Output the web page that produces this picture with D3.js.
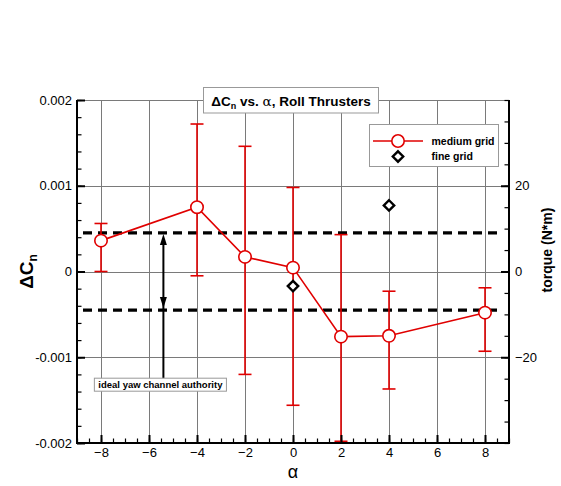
<!DOCTYPE html>
<html><head><meta charset="utf-8">
<script src="https://cdn.jsdelivr.net/npm/d3@7"></script>
<style>
body{margin:0;background:#fff}
svg{display:block}
text{font-family:Arial,'Liberation Sans',sans-serif}
</style>
</head><body><svg id="c" width="561" height="486"></svg>
<script>
// ---- data ----
const alphaMedium = [-8, -4, -2, 0, 2, 4, 8];
const dCnMedium   = [0.00036, 0.00075, 0.00017, 0.000045, -0.00076, -0.00075, -0.00048];
const errUpper    = [0.00056, 0.00172, 0.00146, 0.00098, 0.00043, -0.00023, -0.00019];
const errLower    = [0.0, -0.00005, -0.0012, -0.00156, -0.00198, -0.00137, -0.00093];
const alphaFine   = [0, 4];
const dCnFine     = [-0.00017, 0.00077];
const authority   = [0.00045, -0.00045];
const xTicks      = [-8, -6, -4, -2, 0, 2, 4, 6, 8];
const yTicks      = [0.002, 0.001, 0, -0.001, -0.002];
const yTickLabels = ["0.002", "0.001", "0", "-0.001", "-0.002"];
const torqueTicks = [20, 0, -20];
const annotAlpha  = -5.4;
const annotLabelY = -0.00132;

// ---- layout ----
const svg = d3.select("#c");
const red = "#e00000", gridC = "#7a7a7a";
const x = d3.scaleLinear().domain([-9, 9]).range([77, 509]);
const y = d3.scaleLinear().domain([-0.002, 0.002]).range([443, 100]);
const yR = d3.scaleLinear().domain([-40, 40]).range([443, 100]);

// grid
const g = svg.append("g");
g.selectAll(".vg").data(xTicks).join("line")
  .attr("x1", d => x(d) + 0.5).attr("x2", d => x(d) + 0.5).attr("y1", y(-0.002)).attr("y2", y(0.002))
  .attr("stroke", gridC).attr("stroke-width", 1);
g.selectAll(".hg").data(yTicks.filter(d => d > -0.002)).join("line")
  .attr("x1", x(-9)).attr("x2", x(9)).attr("y1", d => Math.round(y(d)) + 0.5).attr("y2", d => Math.round(y(d)) + 0.5)
  .attr("stroke", gridC).attr("stroke-width", 1);

// authority dashed lines
svg.selectAll(".auth").data(authority).join("line")
  .attr("x1", x(-8.75)).attr("x2", x(8.75)).attr("y1", d => y(d)).attr("y2", d => y(d))
  .attr("stroke", "#000").attr("stroke-width", 3.2).attr("stroke-dasharray", "9,6");

// arrow annotation
const ax = x(annotAlpha);
const topY = y(authority[0]), botY = y(authority[1]);
const labelCY = y(annotLabelY);
svg.append("line").attr("x1", ax).attr("x2", ax).attr("y1", topY + 6).attr("y2", labelCY - 6)
  .attr("stroke", "#000").attr("stroke-width", 2);
svg.append("path").attr("d", `M${ax},${topY + 1}L${ax - 3.5},${topY + 12}L${ax + 3.5},${topY + 12}Z`).attr("fill", "#000");
svg.append("path").attr("d", `M${ax},${botY - 2}L${ax - 3.5},${botY - 13}L${ax + 3.5},${botY - 13}Z`).attr("fill", "#000");

// label box
const lab = svg.append("g");
const labT = lab.append("text").attr("x", x(annotAlpha) - 3).attr("y", labelCY + 3.5)
  .attr("text-anchor", "middle").attr("font-size", 9.5).attr("font-weight", "bold")
  .text("ideal yaw channel authority");
const lw = labT.node().getComputedTextLength();
lab.insert("rect", "text").attr("x", x(annotAlpha) - 3 - lw / 2 - 4).attr("y", labelCY - 6.5)
  .attr("width", lw + 8).attr("height", 13).attr("fill", "#fff").attr("stroke", "#999").attr("stroke-width", 1);

// error bars
const eb = svg.append("g").attr("stroke", red).attr("stroke-width", 1.6);
alphaMedium.forEach((a, i) => {
  eb.append("line").attr("x1", x(a)).attr("x2", x(a)).attr("y1", y(errUpper[i])).attr("y2", y(errLower[i]));
  eb.append("line").attr("x1", x(a) - 6.5).attr("x2", x(a) + 6.5).attr("y1", y(errUpper[i])).attr("y2", y(errUpper[i]));
  eb.append("line").attr("x1", x(a) - 6.5).attr("x2", x(a) + 6.5).attr("y1", y(errLower[i])).attr("y2", y(errLower[i]));
});

// line
svg.append("path").datum(alphaMedium.map((a, i) => [a, dCnMedium[i]]))
  .attr("d", d3.line().x(d => x(d[0])).y(d => y(d[1])))
  .attr("fill", "none").attr("stroke", red).attr("stroke-width", 1.6);
svg.selectAll(".pt").data(alphaMedium).join("circle")
  .attr("cx", d => x(d)).attr("cy", (d, i) => y(dCnMedium[i])).attr("r", 6.2)
  .attr("fill", "#fff").attr("stroke", red).attr("stroke-width", 1.6);

// fine grid diamonds
const dia = s => `M0,${-s}L${s},0L0,${s}L${-s},0Z`;
svg.selectAll(".fd").data(alphaFine).join("path")
  .attr("transform", (d, i) => `translate(${x(d)},${y(dCnFine[i])})`)
  .attr("d", dia(5.2)).attr("fill", "#fff").attr("stroke", "#000").attr("stroke-width", 2.4);

// axes
function styleAxis(sel) {
  sel.selectAll("text").attr("font-size", 13).attr("fill", "#000").attr("font-family", "Arial,'Liberation Sans',sans-serif");
  sel.selectAll(".tick line").attr("stroke", "#000").attr("stroke-width", 1.2);
}
const minorX = d3.range(-9, 9.01, 0.5), minorY = d3.range(-0.002, 0.00201, 0.0002), minorR = d3.range(-40, 40.1, 5);
// bottom
svg.append("g").attr("transform", `translate(0,${y(-0.002)})`)
  .call(d3.axisBottom(x).tickValues(minorX).tickSize(-4.5).tickFormat(""))
  .call(s => s.select(".domain").remove()).call(styleAxis);
svg.append("g").attr("transform", `translate(0,${y(-0.002)})`)
  .call(d3.axisBottom(x).tickValues(xTicks).tickSize(-8).tickPadding(5).tickFormat(d3.format("d")))
  .call(s => s.select(".domain").remove()).call(styleAxis)
  .call(s => s.selectAll(".tick line").attr("stroke-width", 2));
// left
svg.append("g").attr("transform", `translate(${x(-9)},0)`)
  .call(d3.axisLeft(y).tickValues(minorY).tickSize(-4.5).tickFormat(""))
  .call(s => s.select(".domain").remove()).call(styleAxis);
svg.append("g").attr("transform", `translate(${x(-9)},0)`)
  .call(d3.axisLeft(y).tickValues(yTicks).tickSize(-8).tickPadding(5).tickFormat((d, i) => yTickLabels[i]))
  .call(s => s.select(".domain").remove()).call(styleAxis)
  .call(s => s.selectAll(".tick line").attr("stroke-width", 2));
// right
svg.append("g").attr("transform", `translate(${x(9)},0)`)
  .call(d3.axisRight(yR).tickValues(minorR).tickSize(-4.5).tickFormat(""))
  .call(s => s.select(".domain").remove()).call(styleAxis);
svg.append("g").attr("transform", `translate(${x(9)},0)`)
  .call(d3.axisRight(yR).tickValues(torqueTicks).tickSize(-8).tickPadding(6).tickFormat(d3.format("d")))
  .call(s => s.select(".domain").remove()).call(styleAxis)
  .call(s => s.selectAll(".tick line").attr("stroke-width", 2));
// axis lines
svg.append("path").attr("d", `M${x(-9)},${y(0.002)}V${y(-0.002)}H${x(9)}V${y(0.002)}`)
  .attr("fill", "none").attr("stroke", "#000").attr("stroke-width", 2);

// axis titles
const yt = svg.append("text").attr("transform", `translate(33,${y(0)}) rotate(-90)`)
  .attr("text-anchor", "middle").attr("font-size", 19).attr("font-weight", "bold");
yt.append("tspan").text("\u0394C");
yt.append("tspan").attr("font-size", 12).attr("dy", 4).text("n");
svg.append("text").attr("transform", `translate(552,250) rotate(-90)`)
  .attr("text-anchor", "middle").attr("font-size", 14).attr("font-weight", "bold").text("torque (N*m)");
svg.append("text").attr("x", x(0)).attr("y", 478).attr("text-anchor", "middle")
  .attr("font-size", 18).attr("font-family", "'DejaVu Serif',serif").text("\u03b1");

// title
svg.append("rect").attr("x", 203.5).attr("y", 87.5).attr("width", 175).attr("height", 25.5)
  .attr("fill", "#fff").attr("stroke", "#999").attr("stroke-width", 1);
const tt = svg.append("text").attr("x", 291).attr("y", 105.5).attr("text-anchor", "middle")
  .attr("font-size", 13.5).attr("font-weight", "bold");
tt.append("tspan").text("\u0394C");
tt.append("tspan").attr("font-size", 9).attr("dy", 3).text("n");
tt.append("tspan").attr("dy", -3).text(" vs. ");
tt.append("tspan").attr("font-weight", "normal").attr("font-family", "'DejaVu Serif',serif").text("\u03b1");
tt.append("tspan").text(", Roll Thrusters");

// legend
const lg = svg.append("g");
lg.append("rect").attr("x", 369.5).attr("y", 124.5).attr("width", 129).attr("height", 42)
  .attr("fill", "#fff").attr("stroke", "#999").attr("stroke-width", 1);
lg.append("line").attr("x1", 373).attr("x2", 423).attr("y1", 141).attr("y2", 141)
  .attr("stroke", red).attr("stroke-width", 1.6);
lg.append("circle").attr("cx", 398).attr("cy", 141).attr("r", 6.2).attr("fill", "#fff")
  .attr("stroke", red).attr("stroke-width", 1.6);
lg.append("path").attr("transform", "translate(398,156.5)").attr("d", dia(5.2))
  .attr("fill", "#fff").attr("stroke", "#000").attr("stroke-width", 2.4);
lg.append("text").attr("x", 431.5).attr("y", 144.5).attr("font-size", 10.5).attr("font-weight", "bold").text("medium grid");
lg.append("text").attr("x", 431.5).attr("y", 160).attr("font-size", 10.5).attr("font-weight", "bold").text("fine grid");
</script>
</body></html>
